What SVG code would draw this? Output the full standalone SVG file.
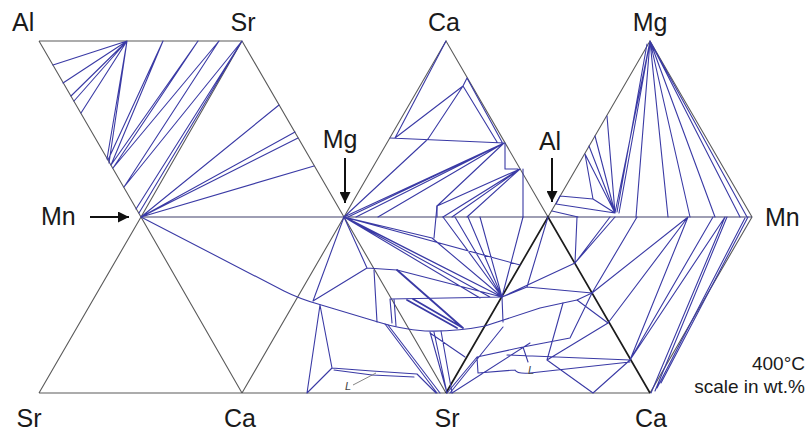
<svg xmlns="http://www.w3.org/2000/svg" width="807" height="432" viewBox="0 0 807 432">
<style>
.e{stroke:#5a5a5a;stroke-width:1.1;fill:none}
.h{stroke:#3e3e6a;stroke-width:1.2;fill:none}
.k{stroke:#1c1c1c;stroke-width:1.7;fill:none}
.b{stroke:#3a3aa5;stroke-width:1.1;fill:none;stroke-linejoin:round;stroke-linecap:round}
.bt{stroke:#3a3aa5;stroke-width:1.8;fill:none;stroke-linecap:round}
.t{font-family:"Liberation Sans",Arial,sans-serif;font-size:25px;fill:#1a1a1a}
.s{font-family:"Liberation Sans",Arial,sans-serif;font-size:19px;fill:#1a1a1a;text-anchor:end}
.l{font-family:"Liberation Sans",Arial,sans-serif;font-size:11px;font-style:italic;fill:#444}
.a{stroke:#111;stroke-width:2;fill:none}
</style>
<defs>
<marker id="ah" viewBox="0 0 10 10" refX="10" refY="5" markerWidth="13" markerHeight="11" markerUnits="userSpaceOnUse" orient="auto"><path d="M0,0 L10,5 L0,10 z" fill="#111"/></marker>
</defs>
<rect width="807" height="432" fill="#fff"/>
<g id="edges">
<path class="e" d="M39,41 H242 M39,41 L141,217 M242,41 L141,217 M242,41 L344,217 M141,217 L39,393 M141,217 L242,393 M39,393 H650 M242,393 L344,217 M344,217 L446,41 L548,217 M344,217 L446,393 M548,217 L650,41 L752,217 L650,393"/>
<path class="h" d="M141,217 H752"/>
<path class="k" d="M446,393 L548,217 L650,393"/>
</g>
<g id="tielines">
<path id="t1" class="b" d="M127,41L53,65 M127,41L63,83 M127,41L71,96 M127,41L74,101 M127,41L81,113 M127,41L107,159 M127,41L109,163 M163,41L108,160 M163,41L111,165 M198,41L111,165 M198,41L113,168 M219,41L113,168 M219,41L124,187 M242,41L124,187 M242,41L136,209 M242,41L139,213"/>
<path id="t2" class="b" d="M141,217L279,105 M141,217L295,132 M141,217L298,138 M141,217L314,166"/>
<path id="curve" class="b" d="M141,217 L284,291 Q300,299 318,304 L378,322 Q400,329 425,331 Q455,332 485,326 L540,308 L563,303 L577,300 L592,293"/>
<path id="t5" class="b" d="M344,217L313,301 M313,301L367,268 M344,217L367,268 M367,268L397,270 M374,270L377,322 M320,305L332,368 M320,305L307,393 M332,368L307,393 M332,368L372,371L417,374 M334,370L372,375L414,377 M417,374L436,393 M385,324L437,393 M388,325L440,393 M390,299L392,323 M394,299L396,326 M390,299L502,297 M430,332L447,393 M434,332L447,393 M441,331L452,393 M430,333L465,357 M397,270L502,297 M344,217L432,238 M432,238L502,297 M344,217L480,298 M344,217L490,297 M344,217L502,297 M347,218L502,297 M344,217L520,265 M437,206L434,238 M443,217L502,297 M455,217L502,297 M468,217L502,297 M480,217L502,297 M523,217L502,297"/>
<path class="bt" d="M413,299L463,328 M407,300L457,328 M397,270L463,328"/>
<path id="t6" class="b" d="M446,41L395,138 M390,138L504,143 M467,78L463,86 M463,86L395,138 M463,86L428,139 M463,86L497,142 M467,78L502,142 M428,139L344,217 M504,143L344,217 M504,143L348,217 M504,143L356,217 M504,143L378,217 M505,143L505,169L518,169 M504,143L437,206 M520,169L437,206 M520,169L443,217 M520,169L452,217 M520,169L467,217 M523,169L523,217 M437,206L437,217"/>
<path id="t9" class="b" d="M650,41L615,213 M647,44L617,212 M650,41L619,213 M650,41L636,217 M650,41L668,217 M650,41L690,217 M650,41L715,217 M650,41L740,217 M650,41L747,217 M607,116L615,213 M595,136L615,213 M589,146L615,213 M585,154L615,213 M585,154L593,199 M560,196L593,199 M556,204L615,213 M593,199L615,213 M560,196L556,204 M552,211L578,217"/>
<path id="t10" class="b" d="M577,217L575,263 M575,263L615,217 M575,263L610,217 M592,293L637,217 M592,293L688,217 M608,323L688,217 M630,360L688,217 M630,360L713,217 M630,360L725,217 M651,393L725,217 M655,391L727,217 M657,388L745,218 M661,383L748,217"/>
<path id="t8" class="b" d="M502,297L527,287L548,217 M527,287L592,293 M502,297L575,263 M502,297L503,322 M447,393L477,357 M477,357L523,347L570,338 M523,347L528,362 M477,357L478,373 M478,373L515,370 M507,355L630,360 M515,370Q517,374 530,373 L630,362 M547,360L593,393 M593,393L630,360 M563,303L547,360 M577,300L608,323 M608,323L547,360 M450,393L503,327 M452,393L530,343 M570,338L592,293"/>
<path d="M353,385 L376,373" stroke="#666" stroke-width="0.8" fill="none"/>
</g>
<g id="labels">
<text class="t" x="12" y="31">Al</text>
<text class="t" x="243" y="31" text-anchor="middle">Sr</text>
<text class="t" x="444" y="31" text-anchor="middle">Ca</text>
<text class="t" x="650" y="31" text-anchor="middle">Mg</text>
<text class="t" x="41" y="225">Mn</text>
<text class="t" x="765" y="226">Mn</text>
<text class="t" x="340" y="148" text-anchor="middle">Mg</text>
<text class="t" x="550" y="150" text-anchor="middle">Al</text>
<text class="t" x="29" y="427" text-anchor="middle">Sr</text>
<text class="t" x="240" y="427" text-anchor="middle">Ca</text>
<text class="t" x="447" y="427" text-anchor="middle">Sr</text>
<text class="t" x="651" y="427" text-anchor="middle">Ca</text>
<text class="s" x="805" y="370">400°C</text>
<text class="s" x="805" y="393">scale in wt.%</text>
<text class="l" x="345" y="390">L</text>
<text class="l" x="528" y="374">L</text>
</g>
<g id="arrows">
<line class="a" x1="90" y1="217" x2="129" y2="217" marker-end="url(#ah)"/>
<line class="a" x1="345" y1="158" x2="345" y2="203" marker-end="url(#ah)"/>
<line class="a" x1="552" y1="158" x2="552" y2="202" marker-end="url(#ah)"/>
</g>
</svg>
